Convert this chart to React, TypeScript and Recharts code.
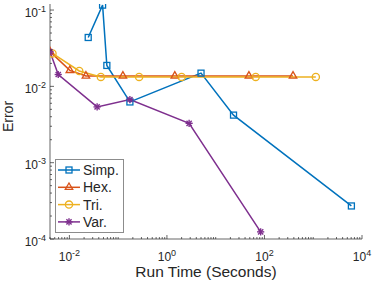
import React from 'react';
import { LineChart, Line, XAxis, YAxis, Legend } from 'recharts';

// ---- data ----
const simpTime = [0.0243, 0.0479, 0.0586, 0.174, 5.0, 23.2, 6060];
const simpError = [0.0437, 0.116, 0.0188, 0.00625, 0.0149, 0.0042, 0.000271];
const hexTime = [0.004, 0.0102, 0.0218, 0.125, 1.45, 48, 385];
const hexError = [0.0285, 0.0162, 0.0137, 0.0137, 0.0137, 0.0137, 0.0137];
const triTime = [0.0045, 0.0159, 0.0441, 0.269, 2.0, 66, 1130];
const triError = [0.027, 0.0159, 0.0133, 0.0133, 0.0133, 0.0133, 0.0133];
const varTime = [0.004, 0.0059, 0.037, 0.174, 2.85, 83.5];
const varError = [0.0284, 0.0143, 0.00538, 0.00672, 0.00328, 0.000124];

const seriesNames = ['Simp.', 'Hex.', 'Tri.', 'Var.'];
const xMajorTicks = [0.01, 1, 100, 10000];
const yMajorTicks = [0.0001, 0.001, 0.01, 0.1];
const xDomain: [number, number] = [0.004, 10000];
const yDomain: [number, number] = [0.0001, 0.12];
const xLabel = 'Run Time (Seconds)';
const yLabel = 'Error';

// ---- styling ----
const COLORS = ['#0072BD', '#D95319', '#EDB120', '#7E2F8E'];
const AXIS = '#262626';
const FONT = '"Liberation Sans", Arial, Helvetica, sans-serif';

const zip = (xs: number[], ys: number[]) => xs.map((x, i) => ({ x, y: ys[i] }));
const simpData = zip(simpTime, simpError);
const hexData = zip(hexTime, hexError);
const triData = zip(triTime, triError);
const varData = zip(varTime, varError);

const withMinor = (majors: number[], lo: number, hi: number) => {
  const out: number[] = [];
  const first = Math.floor(Math.log10(lo));
  const last = Math.ceil(Math.log10(hi));
  for (let e = first; e <= last; e++) {
    for (let m = 1; m <= 9; m++) {
      const v = Number((m * Math.pow(10, e)).toPrecision(6));
      if (v >= lo * 0.9999 && v <= hi * 1.0001) out.push(v);
    }
  }
  majors.forEach((v) => { if (!out.includes(v)) out.push(v); });
  return out.sort((a, b) => a - b);
};
const xTicks = withMinor(xMajorTicks, xDomain[0], xDomain[1]);
const yTicks = withMinor(yMajorTicks, yDomain[0], yDomain[1]);

const inList = (v: number, list: number[]) => list.some((m) => Math.abs(v / m - 1) < 1e-6);
const expOf = (v: number) => String(Math.round(Math.log10(v)));

const MAJ = 4;
const MIN = 2;
const TW = 0.7;

const BottomTick = (p: any) => {
  const { x, y, payload } = p;
  const v = payload.value;
  const maj = inList(v, xMajorTicks);
  return (
    <g>
      <line x1={x} x2={x} y1={y} y2={y - (maj ? MAJ : MIN)} stroke={AXIS} strokeWidth={TW} />
      {maj && (
        <text x={x} y={y + 22} textAnchor="middle" fill={AXIS} fontSize={12} fontFamily={FONT}>
          <tspan>10</tspan>
          <tspan dy={-5} fontSize={9}>{expOf(v)}</tspan>
        </text>
      )}
    </g>
  );
};
const TopTick = (p: any) => {
  const { x, y, payload } = p;
  const maj = inList(payload.value, xMajorTicks);
  return <line x1={x} x2={x} y1={y} y2={y + (maj ? MAJ : MIN)} stroke={AXIS} strokeWidth={TW} />;
};
const LeftTick = (p: any) => {
  const { x, y, payload } = p;
  const v = payload.value;
  const maj = inList(v, yMajorTicks);
  return (
    <g>
      <line x1={x} x2={x + (maj ? MAJ : MIN)} y1={y} y2={y} stroke={AXIS} strokeWidth={TW} />
      {maj && (
        <text x={x - 4} y={y + 6.5} textAnchor="end" fill={AXIS} fontSize={12} fontFamily={FONT}>
          <tspan>10</tspan>
          <tspan dy={-5} fontSize={9}>{expOf(v)}</tspan>
        </text>
      )}
    </g>
  );
};
const RightTick = (p: any) => {
  const { x, y, payload } = p;
  const maj = inList(payload.value, yMajorTicks);
  return <line x1={x} x2={x - (maj ? MAJ : MIN)} y1={y} y2={y} stroke={AXIS} strokeWidth={TW} />;
};

// ---- markers ----
const Marker = ({ kind, cx, cy, color }: { kind: number; cx: number; cy: number; color: string }) => {
  const sw = 1.3;
  if (kind === 0) {
    const s = 3;
    return <rect x={cx - s} y={cy - s} width={2 * s} height={2 * s} fill="none" stroke={color} strokeWidth={sw} />;
  }
  if (kind === 1) {
    const r = 4.3;
    const pts = `${cx},${cy - r} ${cx + r * 0.866},${cy + r * 0.5} ${cx - r * 0.866},${cy + r * 0.5}`;
    return <polygon points={pts} fill="none" stroke={color} strokeWidth={sw} />;
  }
  if (kind === 2) {
    return <circle cx={cx} cy={cy} r={3.6} fill="none" stroke={color} strokeWidth={sw} />;
  }
  const a = 3.6;
  const d = a * 0.72;
  return (
    <g stroke={color} strokeWidth={1.4}>
      <line x1={cx - a} x2={cx + a} y1={cy} y2={cy} />
      <line x1={cx} x2={cx} y1={cy - a} y2={cy + a} />
      <line x1={cx - d} x2={cx + d} y1={cy - d} y2={cy + d} />
      <line x1={cx - d} x2={cx + d} y1={cy + d} y2={cy - d} />
    </g>
  );
};

const makeDot = (kind: number) => (p: any) => (
  <Marker key={`m-${kind}-${p.index}`} kind={kind} cx={p.cx} cy={p.cy} color={COLORS[kind]} />
);

const LegendBox = () => (
  <svg width={69} height={74} style={{ display: 'block' }}>
    <rect x={0.5} y={0.5} width={68} height={73} fill="#fff" stroke="#8c8c8c" strokeWidth={1} />
    {seriesNames.map((name, i) => {
      const cy = 11 + i * 17.3;
      return (
        <g key={name}>
          <line x1={3} x2={25} y1={cy} y2={cy} stroke={COLORS[i]} strokeWidth={1.5} />
          <Marker kind={i} cx={14} cy={cy} color={COLORS[i]} />
          <text x={28} y={cy + 5} fontSize={14} fill={AXIS} fontFamily={FONT}>{name}</text>
        </g>
      );
    })}
  </svg>
);

const XLabel = (p: any) => {
  const vb = p.viewBox || {};
  return (
    <text x={vb.x + vb.width / 2} y={vb.y + 38} textAnchor="middle" fontSize={15.5} fill={AXIS} fontFamily={FONT}>
      {xLabel}
    </text>
  );
};
const YLabel = (p: any) => {
  const vb = p.viewBox || {};
  const cx = vb.x + 13;
  const cy = vb.y + vb.height / 2 - 5;
  return (
    <text x={cx} y={cy} transform={`rotate(-90 ${cx} ${cy})`} textAnchor="middle" fontSize={14} fill={AXIS} fontFamily={FONT}>
      {yLabel}
    </text>
  );
};

export default function App() {
  return (
    <div style={{ position: 'absolute', left: 0, top: 0, width: 374, height: 284, background: '#fff' }}>
      <LineChart width={374} height={284} margin={{ top: 4, right: 12, bottom: 0, left: 0 }}>
        <XAxis
          xAxisId="b"
          type="number"
          dataKey="x"
          scale="log"
          domain={xDomain}
          allowDataOverflow
          ticks={xTicks}
          interval={0}
          tick={BottomTick}
          tickLine={false}
          tickSize={0}
          tickMargin={0}
          height={45}
          axisLine={{ stroke: AXIS, strokeWidth: TW }}
          label={XLabel}
        />
        <XAxis
          xAxisId="t"
          orientation="top"
          type="number"
          dataKey="x"
          scale="log"
          domain={xDomain}
          allowDataOverflow
          ticks={xTicks}
          interval={0}
          tick={TopTick}
          tickLine={false}
          tickSize={0}
          tickMargin={0}
          height={0}
          axisLine={{ stroke: AXIS, strokeWidth: TW }}
        />
        <YAxis
          yAxisId="l"
          type="number"
          dataKey="y"
          scale="log"
          domain={yDomain}
          allowDataOverflow
          ticks={yTicks}
          interval={0}
          tick={LeftTick}
          tickLine={false}
          tickSize={0}
          tickMargin={0}
          width={50}
          axisLine={{ stroke: AXIS, strokeWidth: TW }}
          label={YLabel}
        />
        <YAxis
          yAxisId="r"
          orientation="right"
          type="number"
          dataKey="y"
          scale="log"
          domain={yDomain}
          allowDataOverflow
          ticks={yTicks}
          interval={0}
          tick={RightTick}
          tickLine={false}
          tickSize={0}
          tickMargin={0}
          width={0}
          axisLine={{ stroke: AXIS, strokeWidth: TW }}
        />
        <Line data={simpData} dataKey="y" xAxisId="b" yAxisId="l" stroke={COLORS[0]} strokeWidth={1.5} dot={makeDot(0)} isAnimationActive={false} name={seriesNames[0]} />
        <Line data={hexData} dataKey="y" xAxisId="b" yAxisId="l" stroke={COLORS[1]} strokeWidth={1.5} dot={makeDot(1)} isAnimationActive={false} name={seriesNames[1]} />
        <Line data={triData} dataKey="y" xAxisId="b" yAxisId="l" stroke={COLORS[2]} strokeWidth={1.5} dot={makeDot(2)} isAnimationActive={false} name={seriesNames[2]} />
        <Line data={varData} dataKey="y" xAxisId="b" yAxisId="l" stroke={COLORS[3]} strokeWidth={1.5} dot={makeDot(3)} isAnimationActive={false} name={seriesNames[3]} />
        <Legend
          layout="vertical"
          align="center"
          verticalAlign="middle"
          content={LegendBox}
          wrapperStyle={{ left: 55, top: 159, width: 69, height: 74, margin: 0 }}
        />
      </LineChart>
    </div>
  );
}
